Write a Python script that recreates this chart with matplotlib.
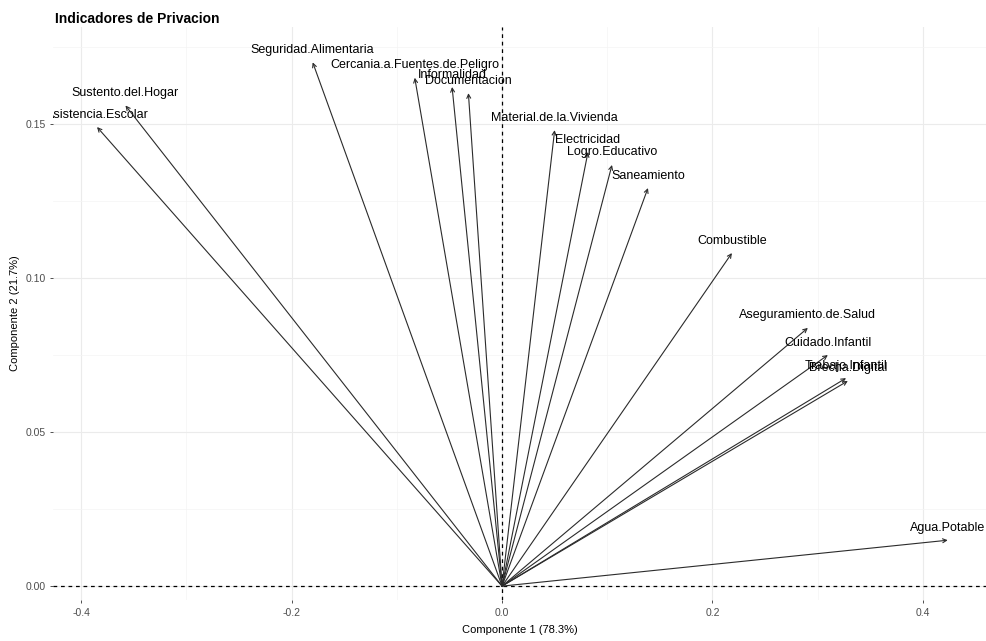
import matplotlib
matplotlib.use('Agg')
import matplotlib.pyplot as plt

plt.rcParams['font.family'] = ['Liberation Sans', 'DejaVu Sans']

# loadings on the first two components
variables = ['Asistencia.Escolar', 'Sustento.del.Hogar', 'Seguridad.Alimentaria',
             'Cercania.a.Fuentes.de.Peligro', 'Informalidad', 'Documentacion',
             'Material.de.la.Vivienda', 'Electricidad', 'Logro.Educativo',
             'Saneamiento', 'Combustible', 'Aseguramiento.de.Salud',
             'Cuidado.Infantil', 'Trabajo.Infantil', 'Brecha.Digital', 'Agua.Potable']
comp1 = [-0.385, -0.358, -0.180, -0.083, -0.0475, -0.032, 0.050, 0.0817, 0.1045,
         0.1387, 0.2185, 0.2907, 0.3097, 0.327, 0.3287, 0.4237]
comp2 = [0.149, 0.156, 0.170, 0.165, 0.162, 0.160, 0.148, 0.1409, 0.1367,
         0.1292, 0.1081, 0.0838, 0.075, 0.0675, 0.0666, 0.0149]

xticks = [-0.4, -0.2, 0.0, 0.2, 0.4]
yticks = [0.00, 0.05, 0.10, 0.15]

fig = plt.figure(figsize=(9.87, 6.41), dpi=100)
ax = fig.add_axes([0.054, 0.064, 0.946, 0.894])

ax.set_xlim(-0.4266, 0.461)
ax.set_ylim(-0.0045, 0.1815)

# light grid, minimal theme
ax.set_xticks(xticks)
ax.set_yticks(yticks)
ax.set_xticks([-0.3, -0.1, 0.1, 0.3], minor=True)
ax.set_yticks([0.025, 0.075, 0.125, 0.175], minor=True)
ax.grid(which='major', color='#ebebeb', lw=0.8)
ax.grid(which='minor', color='#f4f4f4', lw=0.5)
ax.set_axisbelow(True)
for s in ax.spines.values():
    s.set_visible(False)
ax.tick_params(which='major', length=2.5, width=0.6, color='#333333',
               labelsize=7.5, labelcolor='#4d4d4d', pad=3)
ax.tick_params(which='minor', length=0)
ax.set_xticklabels(['{:.1f}'.format(t) for t in xticks])
ax.set_yticklabels(['{:.2f}'.format(t) for t in yticks])

ax.axhline(0, color='black', lw=0.9, ls=(0, (3, 3)))
ax.axvline(0, color='black', lw=0.9, ls=(0, (3, 3)))

for name, x, y in zip(variables, comp1, comp2):
    ax.annotate('', xy=(x, y), xytext=(0, 0),
                arrowprops=dict(arrowstyle='->', color='#2b2b2b', lw=0.8,
                                shrinkA=0, shrinkB=0, mutation_scale=7))
    ax.annotate(name, xy=(x, y), xytext=(0, 9),
                textcoords='offset points', ha='center', va='center',
                fontsize=9, color='black', annotation_clip=False, clip_on=True)

ax.set_xlabel('Componente 1 (78.3%)', fontsize=8, labelpad=5)
ax.set_ylabel('Componente 2 (21.7%)', fontsize=8, labelpad=4)
fig.text(0.056, 0.971, 'Indicadores de Privacion', fontsize=10,
         fontweight='bold', ha='left', va='center')

fig.savefig('out.png', dpi=100)
